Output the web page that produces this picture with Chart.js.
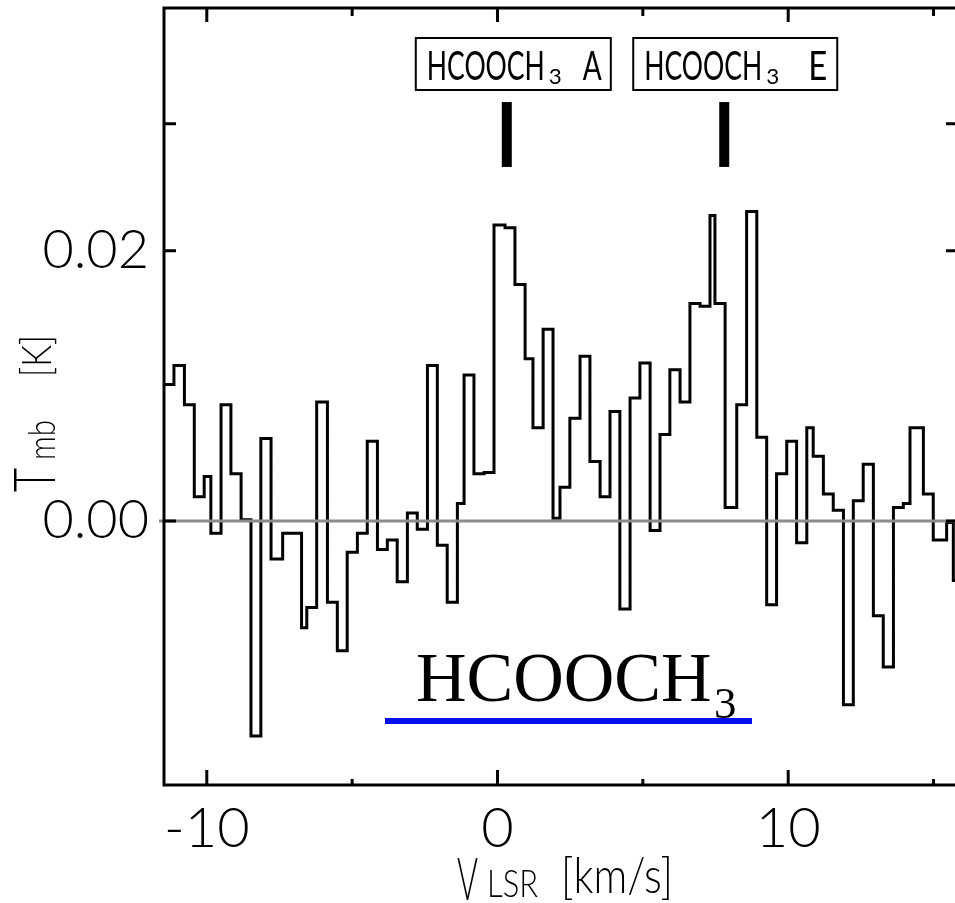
<!DOCTYPE html>
<html>
<head>
<meta charset="utf-8">
<script src="https://cdn.jsdelivr.net/npm/chart.js@4.4.7/dist/chart.umd.min.js"></script>
<style>
  html, body { margin: 0; padding: 0; background: #ffffff; }
</style>
</head>
<body>
<canvas id="spec" width="955" height="903"></canvas>
<script>
// channel left edges [km/s] and Tmb [K]
const velEdges = [
  -11.60, -11.13, -10.77, -10.43, -10.09, -9.86, -9.51, -9.17, -8.82, -8.48,
  -8.14, -7.79, -7.39, -6.74, -6.56, -6.22, -5.85, -5.51, -5.17, -4.82,
  -4.48, -4.13, -3.79, -3.45, -3.10, -2.76, -2.41, -2.07, -1.73, -1.38,
  -1.15, -0.81, -0.46, -0.12, 0.26, 0.60, 0.95, 1.22, 1.57, 1.91,
  2.15, 2.49, 2.84, 3.18, 3.53, 3.87, 4.21, 4.56, 4.90, 5.25,
  5.59, 5.93, 6.28, 6.62, 6.97, 7.31, 7.48, 7.83, 8.23, 8.57,
  8.92, 9.26, 9.60, 9.95, 10.29, 10.64, 10.86, 11.21, 11.55, 11.90,
  12.24, 12.58, 12.93, 13.27, 13.62, 13.96, 14.19, 14.65, 14.99, 15.45,
  15.68
];
const velEnd = 16.0;
const tmb = [
  0.0101, 0.0115, 0.0086, 0.0018, 0.0033, -0.0009, 0.0086, 0.0035, 0.0001, -0.0159,
  0.0061, -0.0028, -0.0009, -0.0079, -0.0064, 0.0088, -0.0060, -0.0096, -0.0023, -0.0009,
  0.0059, -0.0021, -0.0014, -0.0045, 0.0006, -0.0006, 0.0115, -0.0018, -0.0060, 0.0013,
  0.0108, 0.0035, 0.0036, 0.0219, 0.0217, 0.0175, 0.0120, 0.0069, 0.0142, 0.0002,
  0.0025, 0.0076, 0.0122, 0.0044, 0.0018, 0.0081, -0.0065, 0.0091, 0.0117, -0.0007,
  0.0064, 0.0112, 0.0088, 0.0161, 0.0159, 0.0226, 0.0161, 0.0010, 0.0086, 0.0229,
  0.0062, -0.0062, 0.0035, 0.0059, -0.0016, 0.0069, 0.0048, 0.0020, 0.0008, -0.0136,
  0.0015, 0.0042, -0.0070, -0.0108, 0.0010, 0.0013, 0.0069, 0.0020, -0.0014, -0.0001,
  -0.0044
];

const xTickLabels = [-10, 0, 10];
const xMinorTicks = [-5, 5, 15];
const yTickLabels = [0, 0.02];
const yMinorTicks = [0.0294];

// line markers: rest velocities of the A and E components
const lineVel = [0.32, 7.80];
const lineTags = ['A', 'E'];
const markerRange = [0.0262, 0.0310];

const bitmapFont = "'Lato', 'Liberation Sans', sans-serif";

const points = velEdges.map((v, i) => ({ x: v, y: tmb[i] }));
points.push({ x: velEnd, y: tmb[tmb.length - 1] });

// draw text squeezed to a given width
function fitText(ctx, text, x, y, font, w) {
  ctx.save();
  ctx.font = font;
  const m = ctx.measureText(text).width;
  ctx.translate(x, y);
  ctx.scale(w / m, 1);
  ctx.textAlign = 'left';
  ctx.textBaseline = 'alphabetic';
  ctx.fillText(text, 0, 0);
  ctx.restore();
}

const zeroLine = {
  id: 'zeroLine',
  afterDatasetsDraw(chart) {
    const { ctx, chartArea } = chart;
    const y = chart.scales.y.getPixelForValue(0);
    ctx.save();
    ctx.strokeStyle = '#8c8c8c';
    ctx.lineWidth = 3;
    ctx.beginPath();
    ctx.moveTo(chartArea.left - 5, y);
    ctx.lineTo(chartArea.right, y);
    ctx.stroke();
    ctx.restore();
  }
};

const frame = {
  id: 'frame',
  afterDraw(chart) {
    const { ctx, chartArea } = chart;
    const { left, top, right, bottom } = chartArea;
    const xs = chart.scales.x, ys = chart.scales.y;
    ctx.save();
    ctx.strokeStyle = '#000';
    ctx.lineWidth = 3;
    ctx.beginPath();
    ctx.moveTo(left, bottom + 1.5);
    ctx.lineTo(left, top);
    ctx.lineTo(right + 3, top);
    ctx.moveTo(left - 1.5, bottom);
    ctx.lineTo(right + 3, bottom);
    ctx.stroke();

    ctx.beginPath();
    xTickLabels.forEach(v => {
      const x = xs.getPixelForValue(v);
      ctx.moveTo(x, bottom); ctx.lineTo(x, bottom - 15);
      ctx.moveTo(x, top); ctx.lineTo(x, top + 14);
    });
    xMinorTicks.forEach(v => {
      const x = xs.getPixelForValue(v);
      ctx.moveTo(x, bottom); ctx.lineTo(x, bottom - 6);
      ctx.moveTo(x, top); ctx.lineTo(x, top + 8);
    });
    yTickLabels.concat(yMinorTicks).forEach(v => {
      const y = ys.getPixelForValue(v);
      ctx.moveTo(left, y); ctx.lineTo(left + 12, y);
      ctx.moveTo(right, y); ctx.lineTo(right - 9, y);
    });
    ctx.stroke();
    ctx.restore();
  }
};

const notes = {
  id: 'notes',
  afterDraw(chart) {
    const { ctx } = chart;
    const xs = chart.scales.x, ys = chart.scales.y;
    ctx.save();
    ctx.fillStyle = '#000';

    // line markers and their labelled boxes
    lineVel.forEach((v, i) => {
      const bx = xs.getPixelForValue(v);
      const yTop = ys.getPixelForValue(markerRange[1]);
      const yBot = ys.getPixelForValue(markerRange[0]);
      ctx.fillRect(bx - 5, yTop, 10, yBot - yTop);

      const left = bx - 91;
      const w = i === 0 ? 195 : 204;
      ctx.fillStyle = '#fff';
      ctx.fillRect(left, 38, w, 52);
      ctx.strokeStyle = '#000';
      ctx.lineWidth = 2;
      ctx.strokeRect(left, 38, w, 52);
      ctx.fillStyle = '#000';
      fitText(ctx, 'HCOOCH', left + 11, 80, '40px ' + bitmapFont, 118);
      fitText(ctx, '3', left + 133, 84, '21px ' + bitmapFont, 13);
      fitText(ctx, lineTags[i], left + (i === 0 ? 167 : 175), 80, '40px ' + bitmapFont, 19);
    });

    // species name with blue underline
    ctx.fillStyle = '#000';
    ctx.font = "70px 'Liberation Serif', 'Times New Roman', serif";
    ctx.textAlign = 'left';
    ctx.textBaseline = 'alphabetic';
    ctx.fillText('HCOOCH', 416, 701);
    ctx.font = "45px 'Liberation Serif', 'Times New Roman', serif";
    ctx.fillText('3', 714, 718);
    ctx.fillStyle = '#0010ee';
    ctx.fillRect(385, 718, 367, 6);

    // axis titles
    ctx.fillStyle = '#000';
    fitText(ctx, 'V', 457, 900, '300 60px ' + bitmapFont, 21);
    fitText(ctx, 'LSR', 487, 897, '300 38px ' + bitmapFont, 51);
    fitText(ctx, '[km/s]', 561, 893, '300 50px ' + bitmapFont, 112);

    ctx.save();
    ctx.translate(55, 0);
    ctx.rotate(-Math.PI / 2);
    fitText(ctx, 'T', -492, 0, '300 58px ' + bitmapFont, 24);
    fitText(ctx, 'mb', -460, 0, '300 38px ' + bitmapFont, 40);
    fitText(ctx, '[K]', -377, -4, '300 42px ' + bitmapFont, 42);
    ctx.restore();

    ctx.restore();
  }
};

new Chart(document.getElementById('spec'), {
  type: 'line',
  data: {
    datasets: [{
      label: 'HCOOCH3',
      data: points,
      stepped: true,
      borderColor: '#000',
      borderWidth: 3,
      pointRadius: 0,
      fill: false
    }]
  },
  options: {
    responsive: false,
    animation: false,
    events: [],
    layout: { padding: { top: 8, right: 0, left: 0, bottom: 0 } },
    plugins: { legend: { display: false }, tooltip: { enabled: false } },
    scales: {
      x: {
        type: 'linear',
        min: -11.472,
        max: 15.738,
        grid: { display: false },
        border: { display: false },
        afterBuildTicks: s => { s.ticks = xTickLabels.map(v => ({ value: v })); },
        afterFit: s => { s.height = 118; s.paddingLeft = 0; s.paddingRight = 0; },
        ticks: {
          autoSkip: false,
          maxRotation: 0,
          padding: 2,
          color: '#000',
          font: { family: bitmapFont, size: 56, weight: 300 },
          callback: v => String(v)
        }
      },
      y: {
        min: -0.01953,
        max: 0.03796,
        grid: { display: false },
        border: { display: false },
        afterBuildTicks: s => { s.ticks = yTickLabels.map(v => ({ value: v })); },
        afterFit: s => { s.width = 164; s.paddingTop = 0; s.paddingBottom = 0; },
        ticks: {
          padding: 7,
          color: '#000',
          font: { family: bitmapFont, size: 54, weight: 300 },
          callback: v => v.toFixed(2)
        }
      }
    }
  },
  plugins: [zeroLine, frame, notes]
});
</script>
</body>
</html>
